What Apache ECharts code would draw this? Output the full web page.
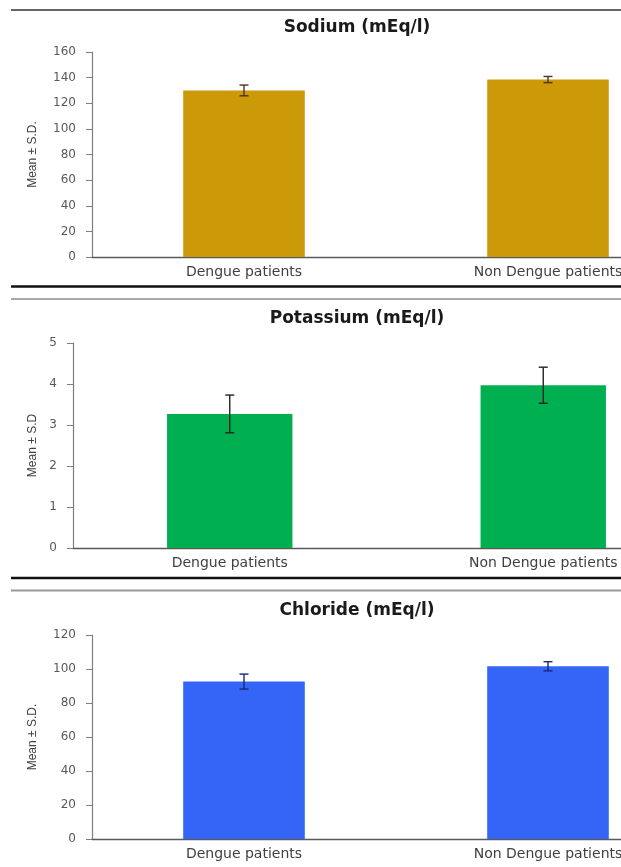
<!DOCTYPE html>
<html><head><meta charset="utf-8">
<script src="https://cdn.jsdelivr.net/npm/echarts@6/dist/echarts.min.js"></script>
<style>html,body{margin:0;padding:0;background:#fff;} #c{width:621px;height:867px;}</style>
</head><body><div id="c"></div>
<script>
const categories = ['Dengue patients', 'Non Dengue patients'];
const panelTitles = ['Sodium (mEq/l)', 'Potassium (mEq/l)', 'Chloride (mEq/l)'];
const yAxisNames = ['Mean \u00B1 S.D.', 'Mean \u00B1 S.D', 'Mean \u00B1 S.D.'];
const sodiumMean = [130, 138.5];
const sodiumSD = [4.2, 2.4];
const potassiumMean = [3.27, 3.97];
const potassiumSD = [0.46, 0.44];
const chlorideMean = [92.6, 101.6];
const chlorideSD = [4.4, 2.7];
const yMax = [160, 5, 120];
const yInterval = [20, 1, 20];

const means = [sodiumMean, potassiumMean, chlorideMean];
const sds = [sodiumSD, potassiumSD, chlorideSD];
const barColors = ['#CC9908', '#00B050', '#3465F6'];
const errColors = ['#4a3320', '#222', '#1a2a70'];
const grids = [
  {left: 92, top: 52, right: -79, height: 205, outerBoundsMode: 'none', containLabel: false},
  {left: 73, top: 343, right: -79, height: 205, outerBoundsMode: 'none', containLabel: false},
  {left: 92, top: 635, right: -79, height: 204, outerBoundsMode: 'none', containLabel: false}
];
const nameGaps = [53, 34, 53];
const titleY = [28, 319, 611];

function makeErr(color) {
  return function (params, api) {
    const x = api.value(0), m = api.value(1), s = api.value(2);
    const hi = api.coord([x, m + s]), lo = api.coord([x, m - s]);
    const cw = 4.5;
    const style = {stroke: color, lineWidth: 1.4};
    return {type: 'group', children: [
      {type: 'line', shape: {x1: hi[0], y1: hi[1], x2: lo[0], y2: lo[1]}, style: style},
      {type: 'line', shape: {x1: hi[0] - cw, y1: hi[1], x2: hi[0] + cw, y2: hi[1]}, style: style},
      {type: 'line', shape: {x1: lo[0] - cw, y1: lo[1], x2: lo[0] + cw, y2: lo[1]}, style: style}
    ]};
  };
}

const xAxes = [], yAxes = [], series = [], graphics = [];
for (let i = 0; i < 3; i++) {
  xAxes.push({
    type: 'category', gridIndex: i, data: categories,
    axisLine: {lineStyle: {color: '#595959', width: 1.3}},
    axisTick: {show: false},
    axisLabel: {margin: 8, fontSize: 14, fontFamily: 'DejaVu Sans', color: '#404040', interval: 0}
  });
  yAxes.push({
    type: 'value', gridIndex: i, min: 0, max: yMax[i], interval: yInterval[i],
    name: yAxisNames[i], nameLocation: 'middle', nameGap: nameGaps[i],
    nameTextStyle: {fontSize: 12, fontFamily: 'Liberation Sans', color: '#404040'},
    axisLine: {show: true, lineStyle: {color: '#7f7f7f', width: 1.2}},
    axisTick: {show: true, length: 6, lineStyle: {color: '#7f7f7f'}},
    splitLine: {show: false},
    axisLabel: {margin: 16, fontSize: 12, fontFamily: 'DejaVu Sans', color: '#595959'}
  });
  series.push({
    type: 'bar', xAxisIndex: i, yAxisIndex: i, barWidth: '40%',
    data: means[i], itemStyle: {color: barColors[i]}
  });
  series.push({
    type: 'custom', xAxisIndex: i, yAxisIndex: i, z: 5,
    renderItem: makeErr(errColors[i]),
    data: means[i].map((m, k) => [k, m, sds[i][k]])
  });
  graphics.push({
    type: 'text', x: 357, y: titleY[i],
    style: {text: panelTitles[i], fill: '#1a1a1a', font: 'bold 17px "DejaVu Sans"', textAlign: 'center', textVerticalAlign: 'middle'}
  });
}
const sepLines = [
  {y: 10, c: '#333', w: 1.5},
  {y: 286.5, c: '#111', w: 2.5},
  {y: 299, c: '#555', w: 1.2},
  {y: 578, c: '#111', w: 2.5},
  {y: 590.5, c: '#999', w: 2}
];
sepLines.forEach(l => graphics.push({
  type: 'line', shape: {x1: 11, y1: l.y, x2: 621, y2: l.y}, style: {stroke: l.c, lineWidth: l.w}
}));

const chart = echarts.init(document.getElementById('c'));
chart.setOption({
  animation: false,
  backgroundColor: '#fff',
  grid: grids,
  xAxis: xAxes,
  yAxis: yAxes,
  series: series,
  graphic: graphics
});
</script></body></html>
